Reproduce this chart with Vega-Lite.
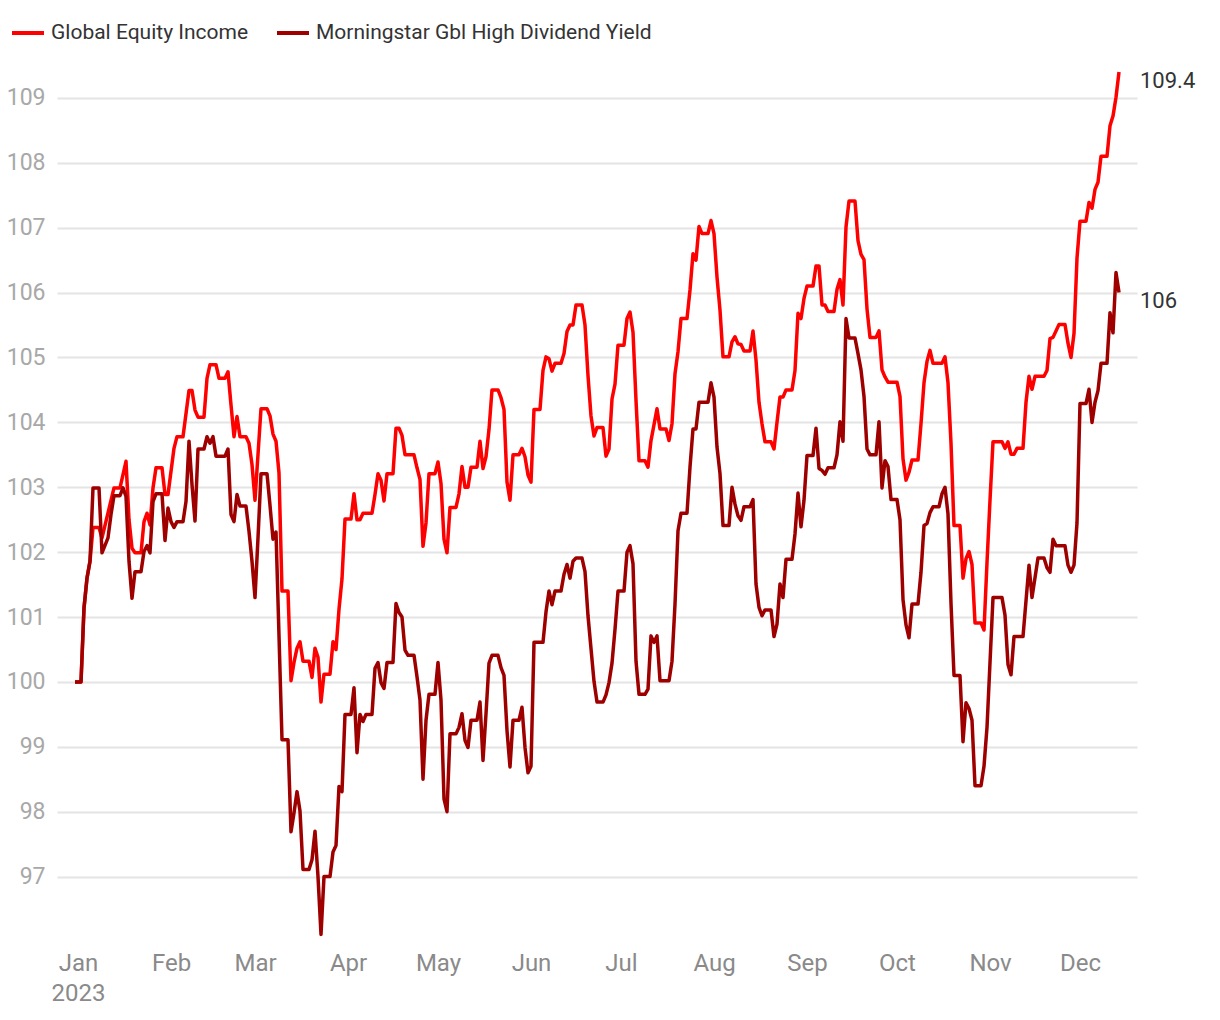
{
  "$schema": "https://vega.github.io/schema/vega-lite/v6.json",
  "width": 1080,
  "height": 889,
  "autosize": {"type": "none"},
  "padding": {"left": 57, "top": 59, "right": 83, "bottom": 72},
  "background": "white",
  "config": {
    "view": {"stroke": null},
    "font": "Roboto, Liberation Sans, sans-serif"
  },
  "datasets": {
    "gei": [
      {"date": "2022-12-31", "value": 100}, {"date": "2023-01-02", "value": 100}, {"date": "2023-01-03", "value": 101.14}, {"date": "2023-01-04", "value": 101.6}, {"date": "2023-01-05", "value": 101.86}, {"date": "2023-01-06", "value": 102.38}, {"date": "2023-01-08", "value": 102.38}, {"date": "2023-01-09", "value": 102.22}, {"date": "2023-01-13", "value": 102.99}, {"date": "2023-01-15", "value": 102.99}, {"date": "2023-01-17", "value": 103.4}, {"date": "2023-01-18", "value": 102.5}, {"date": "2023-01-19", "value": 102.06}, {"date": "2023-01-20", "value": 101.99}, {"date": "2023-01-22", "value": 101.99}, {"date": "2023-01-23", "value": 102.47}, {"date": "2023-01-24", "value": 102.6}, {"date": "2023-01-25", "value": 102.42}, {"date": "2023-01-26", "value": 102.99}, {"date": "2023-01-27", "value": 103.3}, {"date": "2023-01-29", "value": 103.3}, {"date": "2023-01-30", "value": 102.89}, {"date": "2023-01-31", "value": 102.89},
      {"date": "2023-02-02", "value": 103.6}, {"date": "2023-02-03", "value": 103.78}, {"date": "2023-02-05", "value": 103.78}, {"date": "2023-02-07", "value": 104.49}, {"date": "2023-02-08", "value": 104.49}, {"date": "2023-02-09", "value": 104.19}, {"date": "2023-02-10", "value": 104.08}, {"date": "2023-02-12", "value": 104.08}, {"date": "2023-02-13", "value": 104.68}, {"date": "2023-02-14", "value": 104.89}, {"date": "2023-02-16", "value": 104.89}, {"date": "2023-02-17", "value": 104.68}, {"date": "2023-02-19", "value": 104.68}, {"date": "2023-02-20", "value": 104.78}, {"date": "2023-02-21", "value": 104.27}, {"date": "2023-02-22", "value": 103.78}, {"date": "2023-02-23", "value": 104.09}, {"date": "2023-02-24", "value": 103.78}, {"date": "2023-02-26", "value": 103.78}, {"date": "2023-02-27", "value": 103.68}, {"date": "2023-02-28", "value": 103.35},
      {"date": "2023-03-01", "value": 102.8}, {"date": "2023-03-03", "value": 104.21}, {"date": "2023-03-05", "value": 104.21}, {"date": "2023-03-06", "value": 104.1}, {"date": "2023-03-07", "value": 103.82}, {"date": "2023-03-08", "value": 103.71}, {"date": "2023-03-09", "value": 103.22}, {"date": "2023-03-10", "value": 101.4}, {"date": "2023-03-12", "value": 101.4}, {"date": "2023-03-13", "value": 100.02}, {"date": "2023-03-14", "value": 100.3}, {"date": "2023-03-15", "value": 100.52}, {"date": "2023-03-16", "value": 100.62}, {"date": "2023-03-17", "value": 100.32}, {"date": "2023-03-19", "value": 100.32}, {"date": "2023-03-20", "value": 100.07}, {"date": "2023-03-21", "value": 100.52}, {"date": "2023-03-22", "value": 100.38}, {"date": "2023-03-23", "value": 99.69}, {"date": "2023-03-24", "value": 100.12}, {"date": "2023-03-26", "value": 100.12}, {"date": "2023-03-27", "value": 100.62}, {"date": "2023-03-28", "value": 100.5}, {"date": "2023-03-29", "value": 101.12}, {"date": "2023-03-30", "value": 101.59}, {"date": "2023-03-31", "value": 102.51},
      {"date": "2023-04-02", "value": 102.51}, {"date": "2023-04-03", "value": 102.9}, {"date": "2023-04-04", "value": 102.5}, {"date": "2023-04-05", "value": 102.5}, {"date": "2023-04-06", "value": 102.6}, {"date": "2023-04-09", "value": 102.6}, {"date": "2023-04-10", "value": 102.89}, {"date": "2023-04-11", "value": 103.21}, {"date": "2023-04-12", "value": 103.11}, {"date": "2023-04-13", "value": 102.79}, {"date": "2023-04-14", "value": 103.21}, {"date": "2023-04-16", "value": 103.21}, {"date": "2023-04-17", "value": 103.91}, {"date": "2023-04-18", "value": 103.91}, {"date": "2023-04-19", "value": 103.8}, {"date": "2023-04-20", "value": 103.5}, {"date": "2023-04-23", "value": 103.5}, {"date": "2023-04-24", "value": 103.3}, {"date": "2023-04-25", "value": 103.12}, {"date": "2023-04-26", "value": 102.09}, {"date": "2023-04-27", "value": 102.45}, {"date": "2023-04-28", "value": 103.21}, {"date": "2023-04-30", "value": 103.21},
      {"date": "2023-05-01", "value": 103.39}, {"date": "2023-05-02", "value": 103.06}, {"date": "2023-05-03", "value": 102.2}, {"date": "2023-05-04", "value": 101.99}, {"date": "2023-05-05", "value": 102.69}, {"date": "2023-05-07", "value": 102.69}, {"date": "2023-05-08", "value": 102.9}, {"date": "2023-05-09", "value": 103.32}, {"date": "2023-05-10", "value": 103.0}, {"date": "2023-05-11", "value": 103.0}, {"date": "2023-05-12", "value": 103.31}, {"date": "2023-05-14", "value": 103.31}, {"date": "2023-05-15", "value": 103.71}, {"date": "2023-05-16", "value": 103.29}, {"date": "2023-05-17", "value": 103.47}, {"date": "2023-05-18", "value": 103.89}, {"date": "2023-05-19", "value": 104.5}, {"date": "2023-05-21", "value": 104.5}, {"date": "2023-05-22", "value": 104.38}, {"date": "2023-05-23", "value": 104.2}, {"date": "2023-05-24", "value": 103.08}, {"date": "2023-05-25", "value": 102.8}, {"date": "2023-05-26", "value": 103.5}, {"date": "2023-05-28", "value": 103.5}, {"date": "2023-05-29", "value": 103.6}, {"date": "2023-05-30", "value": 103.47}, {"date": "2023-05-31", "value": 103.19},
      {"date": "2023-06-01", "value": 103.08}, {"date": "2023-06-02", "value": 104.2}, {"date": "2023-06-04", "value": 104.2}, {"date": "2023-06-05", "value": 104.8}, {"date": "2023-06-06", "value": 105.01}, {"date": "2023-06-07", "value": 104.98}, {"date": "2023-06-08", "value": 104.79}, {"date": "2023-06-09", "value": 104.91}, {"date": "2023-06-11", "value": 104.91}, {"date": "2023-06-12", "value": 105.06}, {"date": "2023-06-13", "value": 105.4}, {"date": "2023-06-14", "value": 105.5}, {"date": "2023-06-15", "value": 105.5}, {"date": "2023-06-16", "value": 105.81}, {"date": "2023-06-18", "value": 105.81}, {"date": "2023-06-19", "value": 105.5}, {"date": "2023-06-20", "value": 104.72}, {"date": "2023-06-21", "value": 104.1}, {"date": "2023-06-22", "value": 103.79}, {"date": "2023-06-23", "value": 103.92}, {"date": "2023-06-25", "value": 103.92}, {"date": "2023-06-26", "value": 103.48}, {"date": "2023-06-27", "value": 103.59}, {"date": "2023-06-28", "value": 104.36}, {"date": "2023-06-29", "value": 104.59}, {"date": "2023-06-30", "value": 105.19},
      {"date": "2023-07-02", "value": 105.19}, {"date": "2023-07-03", "value": 105.6}, {"date": "2023-07-04", "value": 105.7}, {"date": "2023-07-05", "value": 105.39}, {"date": "2023-07-06", "value": 104.34}, {"date": "2023-07-07", "value": 103.41}, {"date": "2023-07-09", "value": 103.41}, {"date": "2023-07-10", "value": 103.31}, {"date": "2023-07-11", "value": 103.72}, {"date": "2023-07-13", "value": 104.21}, {"date": "2023-07-14", "value": 103.9}, {"date": "2023-07-16", "value": 103.9}, {"date": "2023-07-17", "value": 103.72}, {"date": "2023-07-18", "value": 103.98}, {"date": "2023-07-19", "value": 104.75}, {"date": "2023-07-20", "value": 105.09}, {"date": "2023-07-21", "value": 105.6}, {"date": "2023-07-23", "value": 105.6}, {"date": "2023-07-24", "value": 106.04}, {"date": "2023-07-25", "value": 106.6}, {"date": "2023-07-26", "value": 106.5}, {"date": "2023-07-27", "value": 107.02}, {"date": "2023-07-28", "value": 106.91}, {"date": "2023-07-30", "value": 106.91}, {"date": "2023-07-31", "value": 107.11},
      {"date": "2023-08-01", "value": 106.91}, {"date": "2023-08-02", "value": 106.24}, {"date": "2023-08-03", "value": 105.73}, {"date": "2023-08-04", "value": 105.01}, {"date": "2023-08-06", "value": 105.01}, {"date": "2023-08-07", "value": 105.24}, {"date": "2023-08-08", "value": 105.32}, {"date": "2023-08-09", "value": 105.21}, {"date": "2023-08-10", "value": 105.2}, {"date": "2023-08-11", "value": 105.1}, {"date": "2023-08-13", "value": 105.1}, {"date": "2023-08-14", "value": 105.41}, {"date": "2023-08-15", "value": 104.96}, {"date": "2023-08-16", "value": 104.31}, {"date": "2023-08-17", "value": 103.98}, {"date": "2023-08-18", "value": 103.7}, {"date": "2023-08-20", "value": 103.7}, {"date": "2023-08-21", "value": 103.59}, {"date": "2023-08-22", "value": 104.0}, {"date": "2023-08-23", "value": 104.39}, {"date": "2023-08-24", "value": 104.39}, {"date": "2023-08-25", "value": 104.5}, {"date": "2023-08-27", "value": 104.5}, {"date": "2023-08-28", "value": 104.8}, {"date": "2023-08-29", "value": 105.68}, {"date": "2023-08-30", "value": 105.6}, {"date": "2023-08-31", "value": 105.91},
      {"date": "2023-09-01", "value": 106.1}, {"date": "2023-09-03", "value": 106.1}, {"date": "2023-09-04", "value": 106.41}, {"date": "2023-09-05", "value": 106.41}, {"date": "2023-09-06", "value": 105.81}, {"date": "2023-09-07", "value": 105.81}, {"date": "2023-09-08", "value": 105.71}, {"date": "2023-09-10", "value": 105.71}, {"date": "2023-09-11", "value": 106.05}, {"date": "2023-09-12", "value": 106.2}, {"date": "2023-09-13", "value": 105.81}, {"date": "2023-09-14", "value": 107.01}, {"date": "2023-09-15", "value": 107.41}, {"date": "2023-09-17", "value": 107.41}, {"date": "2023-09-18", "value": 106.8}, {"date": "2023-09-19", "value": 106.59}, {"date": "2023-09-20", "value": 106.51}, {"date": "2023-09-21", "value": 105.75}, {"date": "2023-09-22", "value": 105.31}, {"date": "2023-09-24", "value": 105.31}, {"date": "2023-09-25", "value": 105.41}, {"date": "2023-09-26", "value": 104.81}, {"date": "2023-09-27", "value": 104.7}, {"date": "2023-09-28", "value": 104.62},
      {"date": "2023-10-01", "value": 104.62}, {"date": "2023-10-02", "value": 104.4}, {"date": "2023-10-03", "value": 103.44}, {"date": "2023-10-04", "value": 103.11}, {"date": "2023-10-05", "value": 103.23}, {"date": "2023-10-06", "value": 103.42}, {"date": "2023-10-08", "value": 103.42}, {"date": "2023-10-09", "value": 103.98}, {"date": "2023-10-10", "value": 104.61}, {"date": "2023-10-11", "value": 104.94}, {"date": "2023-10-12", "value": 105.11}, {"date": "2023-10-13", "value": 104.91}, {"date": "2023-10-16", "value": 104.91}, {"date": "2023-10-17", "value": 105.01}, {"date": "2023-10-18", "value": 104.61}, {"date": "2023-10-19", "value": 103.68}, {"date": "2023-10-20", "value": 102.41}, {"date": "2023-10-22", "value": 102.41}, {"date": "2023-10-23", "value": 101.6}, {"date": "2023-10-24", "value": 101.9}, {"date": "2023-10-25", "value": 102.01}, {"date": "2023-10-26", "value": 101.81}, {"date": "2023-10-27", "value": 100.91}, {"date": "2023-10-29", "value": 100.91}, {"date": "2023-10-30", "value": 100.8}, {"date": "2023-10-31", "value": 101.84},
      {"date": "2023-11-01", "value": 102.8}, {"date": "2023-11-02", "value": 103.7}, {"date": "2023-11-05", "value": 103.7}, {"date": "2023-11-06", "value": 103.6}, {"date": "2023-11-07", "value": 103.7}, {"date": "2023-11-08", "value": 103.51}, {"date": "2023-11-09", "value": 103.51}, {"date": "2023-11-10", "value": 103.6}, {"date": "2023-11-12", "value": 103.6}, {"date": "2023-11-13", "value": 104.31}, {"date": "2023-11-14", "value": 104.71}, {"date": "2023-11-15", "value": 104.51}, {"date": "2023-11-16", "value": 104.71}, {"date": "2023-11-19", "value": 104.71}, {"date": "2023-11-20", "value": 104.8}, {"date": "2023-11-21", "value": 105.29}, {"date": "2023-11-22", "value": 105.31}, {"date": "2023-11-24", "value": 105.51}, {"date": "2023-11-26", "value": 105.51}, {"date": "2023-11-27", "value": 105.22}, {"date": "2023-11-28", "value": 105.0}, {"date": "2023-11-29", "value": 105.37}, {"date": "2023-11-30", "value": 106.53},
      {"date": "2023-12-01", "value": 107.1}, {"date": "2023-12-03", "value": 107.1}, {"date": "2023-12-04", "value": 107.39}, {"date": "2023-12-05", "value": 107.3}, {"date": "2023-12-06", "value": 107.59}, {"date": "2023-12-07", "value": 107.7}, {"date": "2023-12-08", "value": 108.1}, {"date": "2023-12-10", "value": 108.1}, {"date": "2023-12-11", "value": 108.57}, {"date": "2023-12-12", "value": 108.72}, {"date": "2023-12-13", "value": 109.01}, {"date": "2023-12-14", "value": 109.4}
    ],
    "ms": [
      {"date": "2022-12-31", "value": 100}, {"date": "2023-01-02", "value": 100}, {"date": "2023-01-03", "value": 101.14}, {"date": "2023-01-04", "value": 101.6}, {"date": "2023-01-05", "value": 101.86}, {"date": "2023-01-06", "value": 102.99}, {"date": "2023-01-08", "value": 102.99}, {"date": "2023-01-09", "value": 101.99}, {"date": "2023-01-11", "value": 102.22}, {"date": "2023-01-12", "value": 102.58}, {"date": "2023-01-13", "value": 102.87}, {"date": "2023-01-15", "value": 102.87}, {"date": "2023-01-16", "value": 102.99}, {"date": "2023-01-17", "value": 102.86}, {"date": "2023-01-18", "value": 101.86}, {"date": "2023-01-19", "value": 101.29}, {"date": "2023-01-20", "value": 101.7}, {"date": "2023-01-22", "value": 101.7}, {"date": "2023-01-23", "value": 102.01}, {"date": "2023-01-24", "value": 102.1}, {"date": "2023-01-25", "value": 101.99}, {"date": "2023-01-26", "value": 102.78}, {"date": "2023-01-27", "value": 102.9}, {"date": "2023-01-29", "value": 102.9}, {"date": "2023-01-30", "value": 102.18}, {"date": "2023-01-31", "value": 102.68},
      {"date": "2023-02-01", "value": 102.47}, {"date": "2023-02-02", "value": 102.38}, {"date": "2023-02-03", "value": 102.47}, {"date": "2023-02-05", "value": 102.47}, {"date": "2023-02-06", "value": 102.78}, {"date": "2023-02-07", "value": 103.71}, {"date": "2023-02-08", "value": 103.04}, {"date": "2023-02-09", "value": 102.48}, {"date": "2023-02-10", "value": 103.59}, {"date": "2023-02-12", "value": 103.59}, {"date": "2023-02-13", "value": 103.78}, {"date": "2023-02-14", "value": 103.68}, {"date": "2023-02-15", "value": 103.78}, {"date": "2023-02-16", "value": 103.48}, {"date": "2023-02-19", "value": 103.48}, {"date": "2023-02-20", "value": 103.59}, {"date": "2023-02-21", "value": 102.58}, {"date": "2023-02-22", "value": 102.47}, {"date": "2023-02-23", "value": 102.89}, {"date": "2023-02-24", "value": 102.71}, {"date": "2023-02-26", "value": 102.71}, {"date": "2023-02-27", "value": 102.32}, {"date": "2023-02-28", "value": 101.86},
      {"date": "2023-03-01", "value": 101.3}, {"date": "2023-03-02", "value": 102.22}, {"date": "2023-03-03", "value": 103.21}, {"date": "2023-03-05", "value": 103.21}, {"date": "2023-03-06", "value": 102.72}, {"date": "2023-03-07", "value": 102.2}, {"date": "2023-03-08", "value": 102.31}, {"date": "2023-03-10", "value": 99.11}, {"date": "2023-03-12", "value": 99.11}, {"date": "2023-03-13", "value": 97.69}, {"date": "2023-03-14", "value": 97.98}, {"date": "2023-03-15", "value": 98.31}, {"date": "2023-03-16", "value": 98.01}, {"date": "2023-03-17", "value": 97.11}, {"date": "2023-03-19", "value": 97.11}, {"date": "2023-03-20", "value": 97.26}, {"date": "2023-03-21", "value": 97.7}, {"date": "2023-03-22", "value": 97.0}, {"date": "2023-03-23", "value": 96.11}, {"date": "2023-03-24", "value": 97.0}, {"date": "2023-03-26", "value": 97.0}, {"date": "2023-03-27", "value": 97.38}, {"date": "2023-03-28", "value": 97.48}, {"date": "2023-03-29", "value": 98.39}, {"date": "2023-03-30", "value": 98.31}, {"date": "2023-03-31", "value": 99.5},
      {"date": "2023-04-02", "value": 99.5}, {"date": "2023-04-03", "value": 99.91}, {"date": "2023-04-04", "value": 98.91}, {"date": "2023-04-05", "value": 99.5}, {"date": "2023-04-06", "value": 99.39}, {"date": "2023-04-07", "value": 99.5}, {"date": "2023-04-09", "value": 99.5}, {"date": "2023-04-10", "value": 100.21}, {"date": "2023-04-11", "value": 100.3}, {"date": "2023-04-12", "value": 99.99}, {"date": "2023-04-13", "value": 99.9}, {"date": "2023-04-14", "value": 100.3}, {"date": "2023-04-16", "value": 100.3}, {"date": "2023-04-17", "value": 101.21}, {"date": "2023-04-18", "value": 101.07}, {"date": "2023-04-19", "value": 101.0}, {"date": "2023-04-20", "value": 100.49}, {"date": "2023-04-21", "value": 100.41}, {"date": "2023-04-23", "value": 100.41}, {"date": "2023-04-24", "value": 100.08}, {"date": "2023-04-25", "value": 99.72}, {"date": "2023-04-26", "value": 98.5}, {"date": "2023-04-27", "value": 99.41}, {"date": "2023-04-28", "value": 99.81}, {"date": "2023-04-30", "value": 99.81},
      {"date": "2023-05-01", "value": 100.3}, {"date": "2023-05-02", "value": 99.72}, {"date": "2023-05-03", "value": 98.2}, {"date": "2023-05-04", "value": 98.0}, {"date": "2023-05-05", "value": 99.2}, {"date": "2023-05-07", "value": 99.2}, {"date": "2023-05-08", "value": 99.3}, {"date": "2023-05-09", "value": 99.51}, {"date": "2023-05-10", "value": 99.1}, {"date": "2023-05-11", "value": 98.99}, {"date": "2023-05-12", "value": 99.41}, {"date": "2023-05-14", "value": 99.41}, {"date": "2023-05-15", "value": 99.69}, {"date": "2023-05-16", "value": 98.79}, {"date": "2023-05-17", "value": 99.51}, {"date": "2023-05-18", "value": 100.29}, {"date": "2023-05-19", "value": 100.41}, {"date": "2023-05-21", "value": 100.41}, {"date": "2023-05-22", "value": 100.22}, {"date": "2023-05-23", "value": 100.1}, {"date": "2023-05-24", "value": 99.25}, {"date": "2023-05-25", "value": 98.69}, {"date": "2023-05-26", "value": 99.41}, {"date": "2023-05-28", "value": 99.41}, {"date": "2023-05-29", "value": 99.61}, {"date": "2023-05-30", "value": 98.99}, {"date": "2023-05-31", "value": 98.6},
      {"date": "2023-06-01", "value": 98.7}, {"date": "2023-06-02", "value": 100.61}, {"date": "2023-06-05", "value": 100.61}, {"date": "2023-06-06", "value": 101.08}, {"date": "2023-06-07", "value": 101.4}, {"date": "2023-06-08", "value": 101.19}, {"date": "2023-06-09", "value": 101.4}, {"date": "2023-06-11", "value": 101.4}, {"date": "2023-06-12", "value": 101.66}, {"date": "2023-06-13", "value": 101.81}, {"date": "2023-06-14", "value": 101.6}, {"date": "2023-06-15", "value": 101.86}, {"date": "2023-06-16", "value": 101.91}, {"date": "2023-06-18", "value": 101.91}, {"date": "2023-06-19", "value": 101.7}, {"date": "2023-06-20", "value": 101.02}, {"date": "2023-06-22", "value": 100.01}, {"date": "2023-06-23", "value": 99.69}, {"date": "2023-06-25", "value": 99.69}, {"date": "2023-06-26", "value": 99.8}, {"date": "2023-06-27", "value": 99.99}, {"date": "2023-06-28", "value": 100.29}, {"date": "2023-06-29", "value": 100.81}, {"date": "2023-06-30", "value": 101.4},
      {"date": "2023-07-02", "value": 101.4}, {"date": "2023-07-03", "value": 102.0}, {"date": "2023-07-04", "value": 102.1}, {"date": "2023-07-05", "value": 101.82}, {"date": "2023-07-06", "value": 100.32}, {"date": "2023-07-07", "value": 99.81}, {"date": "2023-07-09", "value": 99.81}, {"date": "2023-07-10", "value": 99.89}, {"date": "2023-07-11", "value": 100.71}, {"date": "2023-07-12", "value": 100.61}, {"date": "2023-07-13", "value": 100.71}, {"date": "2023-07-14", "value": 100.02}, {"date": "2023-07-17", "value": 100.02}, {"date": "2023-07-18", "value": 100.32}, {"date": "2023-07-19", "value": 101.2}, {"date": "2023-07-20", "value": 102.33}, {"date": "2023-07-21", "value": 102.6}, {"date": "2023-07-23", "value": 102.6}, {"date": "2023-07-24", "value": 103.31}, {"date": "2023-07-25", "value": 103.9}, {"date": "2023-07-26", "value": 103.9}, {"date": "2023-07-27", "value": 104.31}, {"date": "2023-07-30", "value": 104.31}, {"date": "2023-07-31", "value": 104.61},
      {"date": "2023-08-01", "value": 104.39}, {"date": "2023-08-02", "value": 103.62}, {"date": "2023-08-03", "value": 103.21}, {"date": "2023-08-04", "value": 102.41}, {"date": "2023-08-06", "value": 102.41}, {"date": "2023-08-07", "value": 103.0}, {"date": "2023-08-08", "value": 102.74}, {"date": "2023-08-09", "value": 102.56}, {"date": "2023-08-10", "value": 102.49}, {"date": "2023-08-11", "value": 102.7}, {"date": "2023-08-13", "value": 102.7}, {"date": "2023-08-14", "value": 102.81}, {"date": "2023-08-15", "value": 101.51}, {"date": "2023-08-16", "value": 101.15}, {"date": "2023-08-17", "value": 101.02}, {"date": "2023-08-18", "value": 101.11}, {"date": "2023-08-20", "value": 101.11}, {"date": "2023-08-21", "value": 100.7}, {"date": "2023-08-22", "value": 100.89}, {"date": "2023-08-23", "value": 101.51}, {"date": "2023-08-24", "value": 101.3}, {"date": "2023-08-25", "value": 101.89}, {"date": "2023-08-27", "value": 101.89}, {"date": "2023-08-28", "value": 102.28}, {"date": "2023-08-29", "value": 102.91}, {"date": "2023-08-30", "value": 102.39}, {"date": "2023-08-31", "value": 102.8},
      {"date": "2023-09-01", "value": 103.49}, {"date": "2023-09-03", "value": 103.49}, {"date": "2023-09-04", "value": 103.91}, {"date": "2023-09-05", "value": 103.29}, {"date": "2023-09-06", "value": 103.26}, {"date": "2023-09-07", "value": 103.2}, {"date": "2023-09-08", "value": 103.3}, {"date": "2023-09-10", "value": 103.3}, {"date": "2023-09-11", "value": 103.5}, {"date": "2023-09-12", "value": 104.01}, {"date": "2023-09-13", "value": 103.71}, {"date": "2023-09-14", "value": 105.6}, {"date": "2023-09-15", "value": 105.3}, {"date": "2023-09-17", "value": 105.3}, {"date": "2023-09-18", "value": 105.06}, {"date": "2023-09-19", "value": 104.81}, {"date": "2023-09-20", "value": 104.4}, {"date": "2023-09-21", "value": 103.59}, {"date": "2023-09-22", "value": 103.5}, {"date": "2023-09-24", "value": 103.5}, {"date": "2023-09-25", "value": 104.01}, {"date": "2023-09-26", "value": 102.99}, {"date": "2023-09-27", "value": 103.41}, {"date": "2023-09-28", "value": 103.32}, {"date": "2023-09-29", "value": 102.81},
      {"date": "2023-10-01", "value": 102.81}, {"date": "2023-10-02", "value": 102.5}, {"date": "2023-10-03", "value": 101.27}, {"date": "2023-10-04", "value": 100.88}, {"date": "2023-10-05", "value": 100.68}, {"date": "2023-10-06", "value": 101.2}, {"date": "2023-10-08", "value": 101.2}, {"date": "2023-10-09", "value": 101.69}, {"date": "2023-10-10", "value": 102.41}, {"date": "2023-10-11", "value": 102.44}, {"date": "2023-10-12", "value": 102.61}, {"date": "2023-10-13", "value": 102.7}, {"date": "2023-10-15", "value": 102.7}, {"date": "2023-10-16", "value": 102.9}, {"date": "2023-10-17", "value": 103.0}, {"date": "2023-10-18", "value": 102.59}, {"date": "2023-10-19", "value": 101.21}, {"date": "2023-10-20", "value": 100.1}, {"date": "2023-10-22", "value": 100.1}, {"date": "2023-10-23", "value": 99.08}, {"date": "2023-10-24", "value": 99.68}, {"date": "2023-10-25", "value": 99.59}, {"date": "2023-10-26", "value": 99.41}, {"date": "2023-10-27", "value": 98.4}, {"date": "2023-10-29", "value": 98.4}, {"date": "2023-10-30", "value": 98.7}, {"date": "2023-10-31", "value": 99.3},
      {"date": "2023-11-01", "value": 100.3}, {"date": "2023-11-02", "value": 101.3}, {"date": "2023-11-05", "value": 101.3}, {"date": "2023-11-06", "value": 101.03}, {"date": "2023-11-07", "value": 100.27}, {"date": "2023-11-08", "value": 100.11}, {"date": "2023-11-09", "value": 100.7}, {"date": "2023-11-12", "value": 100.7}, {"date": "2023-11-13", "value": 101.25}, {"date": "2023-11-14", "value": 101.8}, {"date": "2023-11-15", "value": 101.3}, {"date": "2023-11-17", "value": 101.91}, {"date": "2023-11-19", "value": 101.91}, {"date": "2023-11-20", "value": 101.76}, {"date": "2023-11-21", "value": 101.69}, {"date": "2023-11-22", "value": 102.2}, {"date": "2023-11-23", "value": 102.1}, {"date": "2023-11-26", "value": 102.1}, {"date": "2023-11-27", "value": 101.8}, {"date": "2023-11-28", "value": 101.69}, {"date": "2023-11-29", "value": 101.8}, {"date": "2023-11-30", "value": 102.45},
      {"date": "2023-12-01", "value": 104.29}, {"date": "2023-12-03", "value": 104.29}, {"date": "2023-12-04", "value": 104.51}, {"date": "2023-12-05", "value": 104.0}, {"date": "2023-12-06", "value": 104.31}, {"date": "2023-12-07", "value": 104.49}, {"date": "2023-12-08", "value": 104.91}, {"date": "2023-12-10", "value": 104.91}, {"date": "2023-12-11", "value": 105.69}, {"date": "2023-12-12", "value": 105.38}, {"date": "2023-12-13", "value": 106.31}, {"date": "2023-12-14", "value": 106.0}
    ]
  },
  "encoding": {
    "x": {
      "field": "date",
      "type": "temporal",
      "scale": {"type": "utc", "domain": [1671926400000, 1703030400000], "nice": false},
      "axis": {
        "title": null,
        "grid": false,
        "domain": false,
        "ticks": false,
        "tickCount": {"interval": "month", "step": 1},
        "labelExpr": "utcmonth(datum.value) == 0 ? [utcFormat(datum.value, '%b'), utcFormat(datum.value, '%Y')] : utcFormat(datum.value, '%b')",
        "labelFontSize": 24,
        "labelColor": "#8a8a8a",
        "labelPadding": 3,
        "labelLineHeight": 30,
        "labelBaseline": "top",
        "labelFlush": false,
        "labelOverlap": false
      }
    },
    "y": {
      "field": "value",
      "type": "quantitative",
      "scale": {"domain": [95.9, 109.6], "nice": false, "zero": false},
      "axis": {
        "title": null,
        "values": [97, 98, 99, 100, 101, 102, 103, 104, 105, 106, 107, 108, 109],
        "grid": true,
        "gridColor": "#e4e4e4",
        "gridWidth": 2,
        "domain": false,
        "ticks": false,
        "labelFontSize": 23,
        "labelColor": "#a8a8a8",
        "labelPadding": 12
      }
    }
  },
  "layer": [
    {
      "data": {"name": "gei"},
      "mark": {"type": "line", "strokeWidth": 3.5, "strokeJoin": "round"},
      "encoding": {
        "color": {
          "datum": "Global Equity Income",
          "type": "nominal",
          "scale": {"domain": ["Global Equity Income", "Morningstar Gbl High Dividend Yield"], "range": ["#ff0000", "#9e0000"]},
          "legend": {
            "title": null,
            "orient": "none",
            "legendX": -47,
            "legendY": -44,
            "direction": "horizontal",
            "symbolType": "stroke",
            "symbolStrokeWidth": 4,
            "symbolSize": 1024,
            "labelFontSize": 21,
            "labelColor": "#333333",
            "labelOffset": 5,
            "columnPadding": 20,
            "labelLimit": 500
          }
        }
      }
    },
    {
      "data": {"name": "ms"},
      "mark": {"type": "line", "strokeWidth": 3.5, "strokeJoin": "round"},
      "encoding": {"color": {"datum": "Morningstar Gbl High Dividend Yield", "type": "nominal"}}
    },
    {
      "data": {"name": "gei"},
      "transform": [{"window": [{"op": "row_number", "as": "rn"}], "sort": [{"field": "date", "order": "descending"}]}, {"filter": "datum.rn == 1"}],
      "mark": {"type": "text", "align": "left", "baseline": "middle", "dx": 21, "dy": 9, "fontSize": 22, "color": "#333333"},
      "encoding": {"text": {"field": "value", "type": "quantitative", "format": ".1~f"}}
    },
    {
      "data": {"name": "ms"},
      "transform": [{"window": [{"op": "row_number", "as": "rn"}], "sort": [{"field": "date", "order": "descending"}]}, {"filter": "datum.rn == 1"}],
      "mark": {"type": "text", "align": "left", "baseline": "middle", "dx": 21, "dy": 8, "fontSize": 22, "color": "#333333"},
      "encoding": {"text": {"field": "value", "type": "quantitative", "format": ".1~f"}}
    }
  ]
}
